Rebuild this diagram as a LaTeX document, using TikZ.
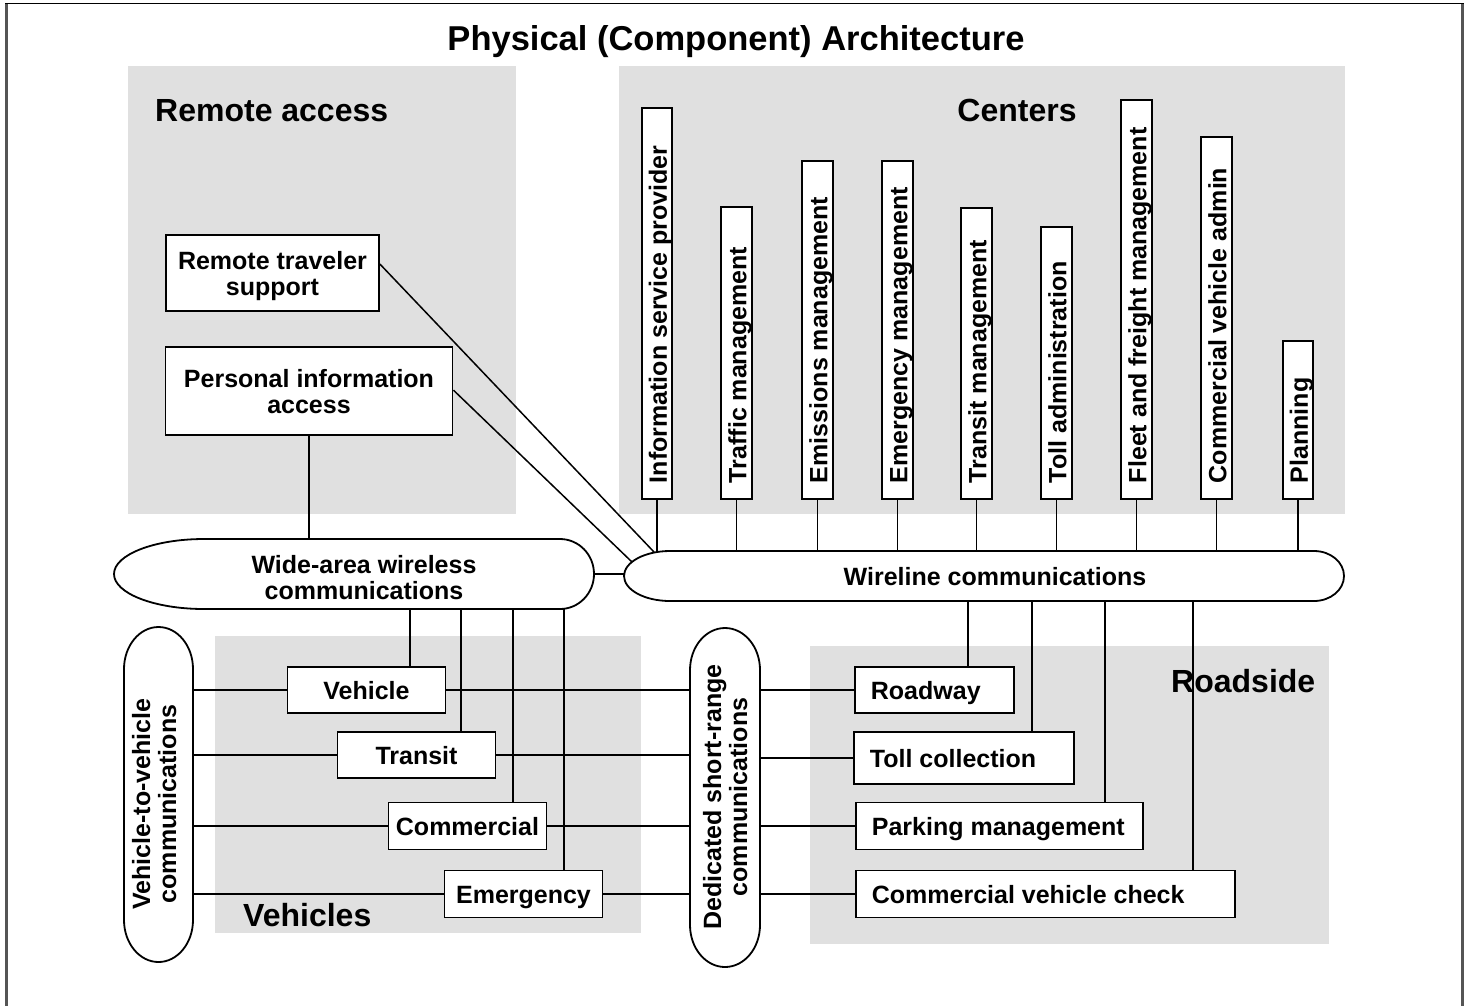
\documentclass[tikz,border=0pt]{standalone}
\usepackage{fontspec}
\setmainfont{Liberation Sans}
\usetikzlibrary{calc}

\definecolor{zonegray}{RGB}{224,224,224}
\definecolor{framegray}{RGB}{85,85,85}

\newcommand\boxfont{\fontsize{25}{26}\selectfont\bfseries}
\newcommand\zonefont{\fontsize{32}{36}\selectfont\bfseries}
\newcommand\titlefont{\fontsize{34.5}{40}\selectfont\bfseries}
% left-aligned text in a box of fixed width (pt)
\newcommand\padl[2]{\makebox[#1pt][l]{#2}}

% pill outlines: horizontal (x1,y1,x2,y2,left depth,right depth), vertical (x1,y1,x2,y2,end depth)
\newcommand\hpill[6]{\draw[pill] ({#1+#5},#2) -- ({#3-#6},#2)
  arc[start angle=-90,end angle=90,x radius=#6,y radius={(#4-#2)/2}] -- ({#1+#5},#4)
  arc[start angle=90,end angle=270,x radius=#5,y radius={(#4-#2)/2}] -- cycle;}
\newcommand\vpill[5]{\draw[pill] (#1,{#4-#5}) -- (#1,{#2+#5})
  arc[start angle=180,end angle=360,x radius={(#3-#1)/2},y radius=#5] -- (#3,{#4-#5})
  arc[start angle=0,end angle=180,x radius={(#3-#1)/2},y radius=#5] -- cycle;}

\tikzset{
  zonelabel/.style={font=\zonefont, inner sep=0pt},
  wire/.style={line width=1.5pt},
  box/.style={draw, fill=white, line width=1.8pt, font=\boxfont, inner sep=0pt},
  onebox/.style={box, text height=18pt, text depth=0pt},
  twobox/.style={box, align=center, text depth=0pt},
  cbox/.style={box, rotate=90, anchor=west, inner xsep=16pt, text height=25pt, text depth=5.5pt},
  lbox/.style={onebox, anchor=west, inner xsep=16pt},
  pill/.style={draw, fill=white, line width=1.8pt},
  pillarea/.style={inner sep=0pt, draw=none},
  pilltext/.style={font=\boxfont, align=center, inner sep=0pt, text depth=0pt},
}

\begin{document}
\begin{tikzpicture}[x=1pt,y=-1pt]
\useasboundingbox (0,0) rectangle (1469,1005);

% outer frame
\draw[framegray, line width=2.2pt] (6.5,1012) -- (6.5,3.5);
\draw[framegray, line width=2.2pt] (1462.5,1012) -- (1462.5,3.5);
\draw[black, line width=1.5pt] (5.4,3.5) -- (1463.6,3.5);

% zones
\fill[zonegray] (128,66) rectangle (516,514);
\fill[zonegray] (619,66) rectangle (1345,514);
\fill[zonegray] (215,636) rectangle (641,933);
\fill[zonegray] (810,646) rectangle (1329,944);

% headings
\node[inner sep=0pt, font=\titlefont, anchor=base] (title) at (736,50) {Physical (Component) Architecture};
\node[zonelabel, anchor=base west] (lblremote) at (155,121) {Remote access};
\node[zonelabel, anchor=base] (lblcenters) at (1017,121) {Centers};
\node[zonelabel, anchor=base west] (lblvehicles) at (243,926) {Vehicles};
\node[zonelabel, anchor=base west] (lblroadside) at (1171,692) {Roadside};

% remote access
\node[twobox, minimum width=213pt, minimum height=76pt] (rts) at (272.5,273) {Remote traveler\\support};
\node[twobox, minimum width=287pt, minimum height=88pt] (pia) at (309,391) {Personal information\\access};

% centers
\node[cbox, minimum width=391pt] (isp) at (657,500) {\padl{359}{Information service provider}};
\node[cbox, minimum width=292pt] (tm) at (736.5,500) {\padl{260}{Traffic management}};
\node[cbox, minimum width=338pt] (em) at (817.5,500) {\padl{306}{Emissions management}};
\node[cbox, minimum width=338pt] (emm) at (897.5,500) {\padl{306}{Emergency management}};
\node[cbox, minimum width=291pt] (trm) at (976.5,500) {\padl{259}{Transit management}};
\node[cbox, minimum width=272pt] (ta) at (1056.5,500) {\padl{240}{Toll administration}};
\node[cbox, minimum width=399pt] (ffm) at (1136.5,500) {\padl{367}{Fleet and freight management}};
\node[cbox, minimum width=362pt] (cva) at (1216.5,500) {\padl{330}{Commercial vehicle admin}};
\node[cbox, minimum width=158pt] (pl) at (1298,500) {\padl{126}{Planning}};

% communication media (anchor areas)
\node[pillarea, minimum width=480pt, minimum height=70pt] (wide) at (354,574) {};
\node[pillarea, minimum width=720pt, minimum height=50pt] (wl) at (984,576) {};
\node[pillarea, minimum width=69pt, minimum height=335pt] (v2v) at (158.5,794.5) {};
\node[pillarea, minimum width=70pt, minimum height=339pt] (dsrc) at (725,797.5) {};

% vehicles
\node[onebox, minimum width=158pt, minimum height=46pt] (veh) at (366.5,690) {Vehicle};
\node[onebox, minimum width=158pt, minimum height=46pt] (tra) at (416.5,755) {Transit};
\node[onebox, minimum width=158pt, minimum height=47pt] (com) at (467.5,826) {Commercial};
\node[onebox, minimum width=158pt, minimum height=47pt] (eme) at (523.5,894) {Emergency};

% roadside
\node[lbox, minimum width=159pt, minimum height=46pt] (road) at (854,690) {\padl{127}{Roadway}};
\node[lbox, minimum width=220pt, minimum height=52pt] (toll) at (853,758) {\padl{188}{Toll collection}};
\node[lbox, minimum width=287pt, minimum height=47pt] (park) at (855,826) {\padl{255}{Parking management}};
\node[lbox, minimum width=379pt, minimum height=47pt] (cvc) at (855,894) {\padl{347}{Commercial vehicle check}};

% tap points
\coordinate (wlA) at (654,552);
\coordinate (wlB) at (632,562);
\coordinate (dA) at (410,0);
\coordinate (dB) at (461,0);
\coordinate (dC) at (513,0);
\coordinate (dD) at (564,0);
\coordinate (uA) at (968,0);
\coordinate (uB) at (1032,0);
\coordinate (uC) at (1105,0);
\coordinate (uD) at (1193,0);

% connectors
\draw[wire] ($(rts.north east)!0.385!(rts.south east)$) -- (wlA);
\draw[wire] ($(pia.north east)!0.49!(pia.south east)$) -- (wlB);
\draw[wire] (pia.south) -- (pia.south |- wide.north);
\draw[wire] (wide.east) -- (wide.east -| wl.west);
\foreach \c in {isp,tm,em,emm,trm,ta,ffm,cva,pl}
  \draw[wire] (\c.west) -- (\c.west |- wl.north);
\draw[wire] (dA |- wide.south) -- (dA |- veh.north);
\draw[wire] (dB |- wide.south) -- (dB |- tra.north);
\draw[wire] (dC |- wide.south) -- (dC |- com.north);
\draw[wire] (dD |- wide.south) -- (dD |- eme.north);
\draw[wire] (uA |- wl.south) -- (uA |- road.north);
\draw[wire] (uB |- wl.south) -- (uB |- toll.north);
\draw[wire] (uC |- wl.south) -- (uC |- park.north);
\draw[wire] (uD |- wl.south) -- (uD |- cvc.north);
\foreach \v in {veh,tra,com,eme}{
  \draw[wire] (v2v.east |- \v.west) -- (\v.west);
  \draw[wire] (\v.east) -- (\v.east -| dsrc.west);
}
\foreach \r in {road,toll,park,cvc}
  \draw[wire] (dsrc.east |- \r.west) -- (\r.west);

% communication media outlines and labels
\hpill{114}{539}{594}{609}{90}{34}
\hpill{624}{551}{1344}{601}{46}{30}
\vpill{124}{627}{193}{962}{42}
\vpill{690}{628}{760}{967}{42}
\node[pilltext] (widetxt) at (364,577) {Wide-area wireless\\communications};
\node[pilltext, text height=18pt] (wltxt) at (995,576) {Wireline communications};
\node[pilltext, rotate=90] (v2vtxt) at (154,804) {Vehicle-to-vehicle\\communications};
\node[pilltext, rotate=90] (dsrctxt) at (725,797) {Dedicated short-range\\communications};
\end{tikzpicture}
\end{document}
